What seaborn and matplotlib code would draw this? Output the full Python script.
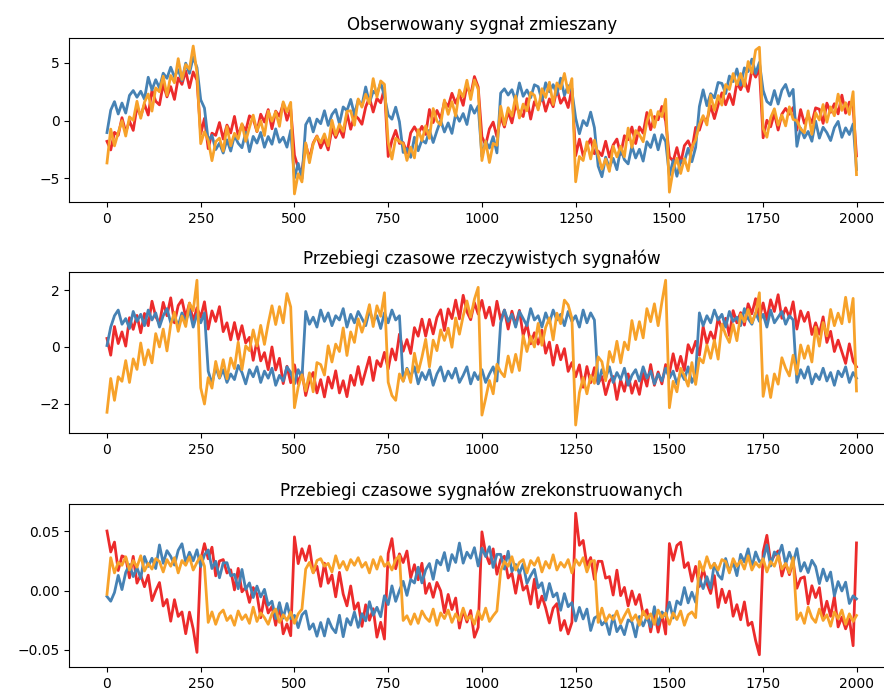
import matplotlib
matplotlib.use("Agg")
import matplotlib.pyplot as plt
import seaborn as sns

# sample index of every stored reading (every 10th sample plus the final one)
sample = list(range(0, 2000, 10)) + [1999]

# --- observed mixtures -------------------------------------------------------
mixed_red = [
    -1.80, -2.54, -1.02, -1.28, 0.25, -0.99, -0.04, -0.85, 1.19, 0.38, 1.42, 0.48, 2.62, 1.67, 1.36, 3.15, 2.05, 2.94, 1.83, 3.69, 3.13, 4.30, 2.84, 4.21, 3.50,
    -1.16, 0.19, -2.43, -1.09, -1.28, -0.17, -1.60, -0.39, -1.07, 0.36, -1.31, -0.34, -0.90, 0.41, 0.16, -0.96, 0.55, -0.13, 0.95, -0.71, 0.82, 0.37, 1.47, 0.03, 1.03,
    -3.00, -4.09, -4.39, -2.04, -3.31, -1.94, -1.33, -2.37, -1.64, -2.54, -0.69, -1.47, -0.69, -1.45, 0.65, -0.75, 0.48, 0.19, -0.32, 1.17, 2.01, 0.74, 1.92, 1.54, 2.83,
    -3.11, -1.71, -0.85, -1.98, -1.90, -2.80, -1.07, -0.54, -1.13, -0.50, -1.20, 0.96, -0.17, 0.88, 0.15, 1.63, 1.22, 2.36, 1.50, 2.29, 1.32, 3.07, 2.19, 3.81, 2.91,
    -1.40, -2.11, -0.72, -0.13, -1.40, 0.30, -0.56, 0.78, -0.20, 1.35, 0.68, 0.35, 1.90, 0.13, 1.64, 1.08, 2.15, 0.81, 1.88, 1.20, 2.74, 1.50, 2.03, 1.13, 2.78,
    -3.04, -1.61, -3.04, -2.26, -1.57, -2.87, -2.64, -3.04, -1.79, -3.16, -2.12, -1.60, -2.94, -1.31, -1.66, -0.56, -1.99, -0.55, -1.09, 0.70, -0.79, 0.35, 0.07, 1.22, -0.04,
    -3.14, -3.52, -2.34, -3.69, -2.17, -1.75, -2.55, -0.59, -0.83, 0.25, -0.01, 1.29, 0.17, 1.35, 2.40, 1.37, 2.31, 1.38, 3.29, 2.67, 3.49, 2.52, 4.42, 3.76, 4.54,
    -1.49, 0.03, -0.54, 0.63, -0.82, 0.56, 1.05, 0.55, 1.13, -0.83, 0.95, -0.24, 0.44, -0.21, 1.10, 0.98, -0.24, 1.51, 0.71, 1.46, 0.58, 2.20, 0.64, 1.60, 1.14,
    -3.06,
]
mixed_blue = [
    -1.04, 0.90, 1.64, 0.57, 1.52, 0.65, 2.18, 2.60, 2.02, 2.54, 1.85, 3.75, 2.65, 3.54, 2.82, 4.10, 3.66, 4.62, 3.77, 4.41, 3.45, 4.97, 4.09, 5.49, 4.59,
    1.80, 1.08, -1.75, -1.28, -2.51, -1.96, -2.81, -1.67, -2.64, -1.30, -1.97, -2.35, -1.02, -2.69, -1.37, -1.95, -1.03, -2.31, -1.38, -2.05, -0.72, -1.88, -1.44, -2.30, -0.85,
    -4.97, -3.71, -5.04, -0.36, 0.23, -0.98, 0.13, -0.27, 0.85, -0.42, 0.52, 0.96, -0.28, 1.18, 0.85, 1.83, 0.51, 1.80, 1.30, 2.91, 1.53, 2.54, 2.27, 3.29, 2.12,
    0.48, 0.12, 1.16, -0.10, -2.76, -2.42, -3.18, -1.44, -2.61, -1.68, -1.95, -0.83, -1.90, -0.89, 0.01, -0.99, -0.20, -1.11, 0.57, -0.06, 0.61, -0.34, 1.31, 0.64, 1.27,
    -3.10, -1.79, -2.38, -1.39, -2.80, 2.38, 2.75, 2.21, 2.67, 1.72, 3.26, 2.10, 2.65, 1.98, 3.10, 2.93, 1.75, 3.27, 2.49, 3.11, 2.25, 3.67, 2.19, 3.02, 2.56,
    0.21, -1.14, 0.00, -0.44, 0.73, -0.61, -3.94, -4.86, -3.17, -4.07, -3.27, -4.25, -2.42, -3.39, -3.75, -2.20, -3.24, -2.48, -3.51, -1.83, -2.33, -1.23, -2.53, -1.22, -1.81,
    -4.77, -3.45, -4.82, -3.48, -3.54, -2.40, -3.56, -2.32, 1.22, 2.66, 1.29, 2.33, 1.97, 3.30, 3.22, 2.34, 3.86, 3.37, 4.47, 3.06, 4.56, 4.24, 5.32, 4.08, 5.04,
    2.61, 1.65, 1.38, 2.60, 1.43, 2.63, 3.13, 2.12, 2.70, -2.23, -0.66, -1.50, -0.94, -1.79, -0.05, -1.52, -0.58, -1.05, -1.73, -0.61, -0.07, -1.45, -0.63, -1.21, -0.29,
    -4.24,
]
mixed_orange = [
    -3.67, -0.74, -2.19, -1.05, -0.01, -1.34, 0.32, 0.02, 1.67, 0.20, 1.58, 2.30, 0.82, 2.83, 2.49, 3.84, 2.18, 3.90, 3.27, 5.36, 3.56, 4.85, 4.45, 6.45, 4.13,
    -2.00, -0.96, -1.72, -3.47, -1.83, -1.52, -2.64, -0.52, -2.18, -1.10, -1.59, -0.27, -1.79, -0.59, 0.47, -0.94, -0.01, -1.29, 0.82, -0.06, 0.76, -0.50, 1.62, 0.75, 1.58,
    -6.35, -4.60, -5.31, -1.93, -3.65, -2.00, -1.37, -1.92, -1.15, -2.19, 0.03, -1.26, -0.31, -0.93, 0.80, 0.85, -0.40, 1.87, 1.16, 2.28, 1.47, 3.63, 2.04, 3.43, 3.14,
    -1.88, -3.33, -1.53, -1.81, -2.00, -3.45, -2.30, -3.23, -0.79, -1.73, -0.46, -1.54, 1.04, -0.05, -0.37, 1.78, 0.54, 1.64, 0.39, 2.64, 2.04, 3.49, 1.82, 3.51, 2.73,
    -3.46, -1.79, -3.63, -1.98, -2.14, 1.24, -0.38, 1.11, 0.39, 2.13, 0.22, 1.43, 0.84, 2.43, 2.19, 0.92, 2.76, 2.00, 3.32, 1.39, 3.26, 2.76, 4.08, 2.42, 3.63,
    -5.30, -3.11, -3.46, -1.84, -3.32, -1.70, -2.98, -4.20, -3.33, -4.40, -2.22, -3.14, -2.22, -3.13, -0.65, -2.32, -0.86, -1.22, -1.83, -0.09, 0.90, -0.59, 0.78, 0.34, 1.85,
    -6.20, -4.27, -3.26, -4.58, -3.29, -4.35, -2.29, -1.66, -0.33, 0.43, -0.38, 2.20, 0.89, 2.16, 1.34, 3.12, 2.69, 4.07, 3.10, 4.07, 2.98, 5.11, 4.12, 6.10, 6.35,
    -0.67, -1.44, 0.25, 1.02, -0.40, 0.48, -0.46, 1.19, 0.10, -0.01, -0.72, -1.05, 0.84, -1.19, 0.67, 0.05, 1.39, -0.14, 1.18, 0.42, 2.29, 0.88, 1.55, 0.53, 2.50,
    -4.68,
]

# --- true sources ------------------------------------------------------------
source_sine = [
    0.30, -0.29, 0.72, 0.12, 0.53, 0.03, 1.03, 0.62, 1.11, 0.50, 1.18, 0.75, 1.61, 1.07, 0.82, 1.57, 1.10, 1.73, 0.85, 1.46, 1.66, 1.05, 1.54, 0.91, 1.38,
    1.04, 1.59, 0.63, 1.27, 0.90, 1.42, 0.54, 0.85, 0.25, 0.86, 0.26, 0.75, 0.14, 0.34, -0.47, 0.22, -0.49, -0.20, -0.80, 0.00, -0.81, -0.40, -1.29, -0.68, -1.26,
    -0.63, -1.30, -0.86, -1.71, -1.16, -0.90, -1.62, -1.15, -1.76, -1.06, -1.45, -0.84, -1.62, -1.19, -1.75, -1.00, -1.35, -0.69, -1.32, -0.84, -0.36, -1.18, -0.48, -0.69, -0.19,
    -0.78, -0.07, -0.46, 0.45, -0.15, 0.26, -0.23, 0.68, 0.38, 0.98, 0.38, 0.97, 0.46, 1.04, 1.31, 0.58, 1.34, 1.00, 1.65, 0.99, 1.82, 1.24, 0.96, 1.56, 1.16,
    1.64, 1.02, 1.40, 0.76, 1.61, 0.96, 1.30, 0.63, 1.26, 0.78, 1.29, 0.40, 0.81, 0.11, 0.50, 0.10, 0.59, -0.22, 0.17, -0.64, 0.06, -0.45, -0.06, -0.86, -0.55,
    -1.05, -0.63, -1.42, -0.69, -1.26, -0.73, -1.29, -1.04, -1.68, -1.21, -1.04, -1.85, -1.16, -1.56, -0.95, -1.63, -1.20, -1.67, -0.93, -1.38, -0.62, -1.35, -0.88, -1.30, -0.62,
    -0.93, -0.24, -0.84, -0.33, -0.83, 0.08, -0.21, 0.20, -0.29, 0.72, 0.12, 0.53, 0.23, 1.03, 0.62, 1.01, 0.40, 1.28, 0.85, 1.21, 0.77, 1.52, 1.17, 1.70, 1.03,
    1.55, 0.96, 1.66, 1.25, 1.84, 1.01, 1.38, 1.04, 1.59, 0.63, 1.27, 0.90, 1.22, 0.44, 0.85, 0.45, 1.06, 0.16, 0.55, -0.16, 0.24, -0.17, -0.58, 0.11, -0.50,
    -0.70,
]
source_square = [
    0.05, 0.70, 1.10, 1.30, 0.80, 1.00, 0.65, 1.25, 0.90, 1.15, 0.75, 1.30, 0.95, 1.20, 0.70, 1.10, 1.35, 0.85, 1.05, 0.75, 1.20, 0.90, 1.30, 0.70, 1.15,
    0.85, 1.20, -0.85, -1.30, -0.70, -1.10, -0.80, -1.25, -0.95, -1.15, -0.65, -0.90, -1.30, -0.80, -1.05, -0.70, -1.25, -0.85, -1.10, -0.75, -1.35, -1.00, -1.20, -0.70, -0.90,
    -1.30, -0.80, -1.10, 1.25, 0.80, 1.05, 0.70, 1.30, 0.90, 1.20, 0.75, 1.10, 0.95, 1.35, 0.70, 1.15, 0.85, 1.25, 1.00, 0.75, 1.30, 0.90, 1.10, 0.65, 1.20,
    0.85, 1.30, 0.95, 1.10, -1.20, -0.75, -1.05, -0.70, -1.30, -0.90, -1.15, -0.80, -1.35, -0.95, -0.70, -1.20, -0.85, -1.10, -0.75, -1.25, -1.00, -0.70, -1.30, -0.90, -1.15,
    -0.80, -1.25, -0.95, -0.70, -1.20, 0.85, 1.30, 0.90, 1.15, 0.70, 1.25, 1.00, 0.75, 1.35, 0.95, 1.10, 0.70, 1.20, 0.85, 1.30, 0.95, 1.15, 0.75, 1.25, 0.90,
    1.10, 0.70, 1.30, 0.85, 1.20, 0.95, -1.30, -0.80, -1.10, -0.70, -1.25, -0.90, -1.15, -0.75, -1.35, -1.00, -0.80, -1.20, -0.70, -1.10, -0.85, -1.30, -0.95, -1.20, -0.75,
    -1.10, -0.85, -1.30, -0.90, -1.15, -0.70, -1.25, -0.95, 1.20, 0.75, 1.10, 0.85, 1.30, 0.95, 1.15, 0.70, 1.25, 0.90, 1.05, 0.75, 1.35, 1.00, 0.80, 1.20, 0.90,
    1.15, 0.70, 1.30, 0.85, 1.05, 1.25, 0.80, 1.10, 0.95, -1.25, -0.80, -1.10, -0.70, -1.30, -0.95, -1.15, -0.75, -1.20, -0.90, -1.35, -0.85, -1.05, -0.70, -1.25, -0.90,
    -1.10,
]
source_saw = [
    -2.30, -1.11, -1.88, -1.05, -1.21, -0.48, -1.25, -0.42, -0.79, 0.14, -0.63, -0.10, -0.56, 0.47, 0.00, 0.63, -0.14, 0.79, 1.22, 0.55, 1.09, 0.72, 1.55, 1.28, 2.35,
    -1.44, -2.01, -1.08, -1.45, -0.51, -1.08, -0.45, -1.12, -0.39, -0.76, 0.17, -0.80, 0.04, -0.13, 0.60, 0.03, 0.76, 0.09, 0.82, 1.45, 0.79, 1.42, 0.85, 1.88, 1.41,
    -2.14, -1.41, -0.98, -1.55, -0.91, -1.58, -0.55, -0.62, -0.99, 0.04, -0.53, 0.10, -0.16, 0.67, -0.30, 0.53, 0.16, 0.99, 0.52, 0.95, 1.49, 0.72, 1.45, 1.08, 1.91,
    -1.24, -1.71, -1.88, -0.95, -1.21, -0.78, -1.25, -0.22, -0.89, -0.36, 0.27, -0.70, 0.24, -0.13, 0.60, 0.23, 0.66, -0.01, 1.02, 0.45, 1.09, 1.62, 1.05, 1.68, 2.10,
    -2.40, -1.81, -1.18, -1.65, -0.61, -0.88, -1.05, -0.32, -0.89, -0.26, -0.83, 0.40, -0.16, 0.37, 0.00, 0.83, 0.06, 0.69, 1.02, 0.25, 1.19, 0.82, 1.65, 1.48, 1.01,
    -2.75, -1.61, -1.08, -1.65, -1.01, -1.28, -0.35, -0.52, -1.19, -0.16, -0.53, 0.20, -0.56, 0.17, -0.10, 0.93, 0.26, 0.89, 0.32, 1.35, 0.89, 1.52, 0.75, 1.58, 2.35,
    -2.14, -1.21, -1.58, -0.75, -1.01, -1.38, -0.55, -1.32, -0.39, -0.56, 0.07, -0.40, 0.24, -0.43, 0.80, 0.43, 0.16, 0.79, 0.22, 1.15, 0.89, 1.32, 0.85, 1.18, 1.91,
    -1.74, -1.01, -1.78, -0.95, -1.31, -0.38, -0.75, -1.02, -0.29, -0.96, 0.07, -0.40, 0.04, -0.53, 0.70, 0.03, 0.86, 0.39, 1.32, 0.75, 1.19, 0.82, 1.75, 0.88, 1.71,
    -1.55,
]

# --- components recovered by ICA ---------------------------------------------
ica_saw = [
    0.0500, 0.0324, 0.0407, 0.0168, 0.0291, 0.0276, 0.0106, 0.0287, 0.0062, 0.0131, 0.0032, 0.0129, -0.0085, -0.0002, 0.0067, -0.0130, -0.0075, -0.0258, -0.0077, -0.0218, -0.0180, -0.0363, -0.0182, -0.0323, -0.0520,
    0.0255, 0.0394, 0.0267, 0.0364, 0.0123, 0.0248, 0.0260, 0.0147, 0.0174, 0.0005, 0.0186, -0.0011, 0.0027, -0.0100, 0.0025, -0.0032, -0.0229, -0.0048, -0.0189, -0.0134, -0.0292, -0.0125, -0.0364, -0.0281, -0.0380,
    0.0451, 0.0226, 0.0351, 0.0252, 0.0375, 0.0150, 0.0204, 0.0035, 0.0230, 0.0061, 0.0130, -0.0053, 0.0153, -0.0030, -0.0129, 0.0038, -0.0159, -0.0104, -0.0301, -0.0120, -0.0250, -0.0153, -0.0392, -0.0267, -0.0408,
    0.0311, 0.0436, 0.0183, 0.0308, 0.0235, 0.0332, 0.0106, 0.0217, 0.0090, 0.0229, -0.0024, 0.0059, -0.0057, 0.0068, -0.0003, -0.0186, -0.0033, -0.0160, -0.0063, -0.0316, -0.0166, -0.0265, -0.0168, -0.0393, -0.0310,
    0.0493, 0.0310, 0.0225, 0.0350, 0.0137, 0.0262, 0.0288, 0.0105, 0.0146, -0.0023, 0.0158, 0.0003, 0.0041, -0.0114, 0.0095, -0.0144, -0.0047, -0.0146, -0.0273, -0.0148, -0.0110, -0.0335, -0.0252, -0.0365, -0.0268,
    0.0650, 0.0380, 0.0421, 0.0210, 0.0277, 0.0094, 0.0246, 0.0245, 0.0104, 0.0117, -0.0038, 0.0171, -0.0043, 0.0026, -0.0129, -0.0004, -0.0117, -0.0034, -0.0203, -0.0162, -0.0348, -0.0181, -0.0350, -0.0197, -0.0366,
    0.0395, 0.0254, 0.0379, 0.0406, 0.0193, 0.0234, 0.0078, 0.0203, 0.0034, 0.0187, 0.0060, -0.0025, 0.0125, -0.0142, 0.0011, -0.0102, -0.0005, -0.0216, -0.0119, -0.0246, -0.0096, -0.0293, -0.0266, -0.0421, -0.0540,
    0.0325, 0.0464, 0.0239, 0.0294, 0.0333, 0.0122, 0.0232, 0.0133, 0.0244, 0.0019, 0.0102, 0.0115, -0.0113, 0.0040, -0.0059, 0.0024, -0.0215, -0.0090, -0.0217, -0.0050, -0.0306, -0.0223, -0.0322, -0.0239, -0.0464,
    0.0400,
]
ica_sine = [
    -0.0050, -0.0090, -0.0017, 0.0127, 0.0008, 0.0152, 0.0218, 0.0117, 0.0192, 0.0103, 0.0286, 0.0202, 0.0271, 0.0185, 0.0383, 0.0229, 0.0335, 0.0287, 0.0214, 0.0338, 0.0393, 0.0236, 0.0322, 0.0249, 0.0342,
    0.0201, 0.0300, 0.0341, 0.0185, 0.0246, 0.0107, 0.0232, 0.0234, 0.0124, 0.0136, 0.0015, 0.0177, 0.0010, 0.0064, -0.0059, 0.0037, -0.0054, 0.0010, -0.0123, -0.0090, -0.0236, -0.0102, -0.0232, -0.0109, -0.0237,
    -0.0209, -0.0312, -0.0205, -0.0172, -0.0326, -0.0280, -0.0384, -0.0269, -0.0382, -0.0239, -0.0313, -0.0355, -0.0208, -0.0388, -0.0236, -0.0291, -0.0181, -0.0310, -0.0195, -0.0255, -0.0094, -0.0208, -0.0141, -0.0220, -0.0044,
    -0.0118, 0.0039, -0.0091, 0.0000, 0.0077, -0.0041, 0.0093, 0.0063, 0.0196, 0.0064, 0.0174, 0.0227, 0.0094, 0.0255, 0.0215, 0.0319, 0.0167, 0.0302, 0.0236, 0.0399, 0.0230, 0.0322, 0.0272, 0.0360, 0.0206,
    0.0355, 0.0285, 0.0368, 0.0194, 0.0304, 0.0304, 0.0180, 0.0330, 0.0160, 0.0219, 0.0144, 0.0223, 0.0060, 0.0125, 0.0178, 0.0023, 0.0065, -0.0081, 0.0059, -0.0053, -0.0021, -0.0166, -0.0026, -0.0136, -0.0102,
    -0.0256, -0.0142, -0.0239, -0.0156, -0.0336, -0.0231, -0.0212, -0.0289, -0.0254, -0.0370, -0.0212, -0.0346, -0.0294, -0.0371, -0.0247, -0.0265, -0.0390, -0.0218, -0.0298, -0.0220, -0.0306, -0.0136, -0.0286, -0.0180, -0.0217,
    -0.0098, -0.0231, -0.0088, -0.0118, 0.0025, -0.0104, -0.0014, -0.0099, 0.0102, 0.0016, 0.0116, 0.0019, 0.0229, 0.0130, 0.0095, 0.0269, 0.0158, 0.0242, 0.0125, 0.0304, 0.0240, 0.0350, 0.0196, 0.0324, 0.0243,
    0.0258, 0.0382, 0.0206, 0.0324, 0.0289, 0.0381, 0.0221, 0.0322, 0.0234, 0.0352, 0.0163, 0.0235, 0.0151, 0.0254, 0.0201, 0.0058, 0.0180, 0.0081, 0.0155, -0.0045, 0.0075, -0.0004, 0.0070, -0.0109, -0.0045,
    -0.0070,
]
ica_square = [
    -0.0032, 0.0276, 0.0148, 0.0236, 0.0212, 0.0284, 0.0172, 0.0252, 0.0196, 0.0292, 0.0164, 0.0228, 0.0180, 0.0268, 0.0244, 0.0156, 0.0260, 0.0204, 0.0276, 0.0148, 0.0252, 0.0212, 0.0284, 0.0172, 0.0236,
    0.0292, 0.0204, -0.0268, -0.0180, -0.0284, -0.0196, -0.0164, -0.0252, -0.0212, -0.0292, -0.0172, -0.0244, -0.0204, -0.0276, -0.0140, -0.0260, -0.0188, -0.0228, -0.0284, -0.0196, -0.0156, -0.0268, -0.0204, -0.0252, -0.0180,
    -0.0276, -0.0196, -0.0156, 0.0180, 0.0236, 0.0148, 0.0252, 0.0268, 0.0204, 0.0228, 0.0156, 0.0292, 0.0188, 0.0244, 0.0172, 0.0260, 0.0212, 0.0276, 0.0196, 0.0236, 0.0148, 0.0260, 0.0180, 0.0284, 0.0204,
    0.0236, 0.0172, 0.0260, 0.0292, -0.0252, -0.0212, -0.0284, -0.0196, -0.0276, -0.0172, -0.0228, -0.0260, -0.0156, -0.0292, -0.0188, -0.0236, -0.0164, -0.0268, -0.0196, -0.0252, -0.0148, -0.0244, -0.0212, -0.0284, -0.0172,
    -0.0244, -0.0148, -0.0260, -0.0212, -0.0172, 0.0164, 0.0244, 0.0204, 0.0284, 0.0172, 0.0236, 0.0260, 0.0148, 0.0252, 0.0212, 0.0276, 0.0156, 0.0244, 0.0188, 0.0300, 0.0172, 0.0236, 0.0196, 0.0260, 0.0148,
    0.0260, 0.0212, 0.0276, 0.0156, 0.0244, 0.0252, -0.0268, -0.0148, -0.0260, -0.0204, -0.0244, -0.0172, -0.0276, -0.0212, -0.0156, -0.0252, -0.0204, -0.0292, -0.0172, -0.0236, -0.0196, -0.0284, -0.0164, -0.0228, -0.0188,
    -0.0284, -0.0188, -0.0244, -0.0172, -0.0292, -0.0204, -0.0180, -0.0228, 0.0244, 0.0164, 0.0284, 0.0188, 0.0228, 0.0172, 0.0260, 0.0244, 0.0148, 0.0268, 0.0204, 0.0252, 0.0180, 0.0292, 0.0172, 0.0236, 0.0196,
    0.0268, 0.0156, 0.0244, 0.0204, 0.0292, 0.0180, 0.0228, 0.0148, 0.0276, -0.0244, -0.0188, -0.0276, -0.0140, -0.0228, -0.0268, -0.0156, -0.0252, -0.0204, -0.0300, -0.0180, -0.0236, -0.0164, -0.0284, -0.0196, -0.0260,
    -0.0210,
]

titles = [
    "Obserwowany sygnał zmieszany",
    "Przebiegi czasowe rzeczywistych sygnałów",
    "Przebiegi czasowe sygnałów zrekonstruowanych",
]
x_ticks = [0, 250, 500, 750, 1000, 1250, 1500, 1750, 2000]
y_ticks = [[-5, 0, 5], [-2, 0, 2], [-0.05, 0.0, 0.05]]
colors = ["#ec2b2b", "#4682b4", "#f7a22a"]

panels = [
    (mixed_red, mixed_blue, mixed_orange),
    (source_sine, source_square, source_saw),
    (ica_saw, ica_sine, ica_square),
]
for group in panels:
    for series in group:
        assert len(series) == len(sample)

fig = plt.figure(figsize=(8.84, 6.93), dpi=100)
rects = [
    [0.0786, 0.7085, 0.9327, 0.2367],
    [0.0786, 0.3752, 0.9327, 0.2323],
    [0.0786, 0.0375, 0.9327, 0.2352],
]
y_limits = [(-7.05, 7.15), (-3.03, 2.64), (-0.0643, 0.0727)]

for rect, group, title, yt, ylim in zip(rects, panels, titles, y_ticks, y_limits):
    ax = fig.add_axes(rect)
    for values, color in zip(group, colors):
        sns.lineplot(x=sample, y=values, color=color, linewidth=2.0, ax=ax)
    ax.set_xlim(-100, 2099)
    ax.set_ylim(*ylim)
    ax.set_xticks(x_ticks)
    ax.set_yticks(yt)
    ax.set_xlabel("")
    ax.set_ylabel("")
    ax.tick_params(labelsize=10)
    ax.set_title(title, fontsize=12)

fig.savefig("out.png", dpi=100)
